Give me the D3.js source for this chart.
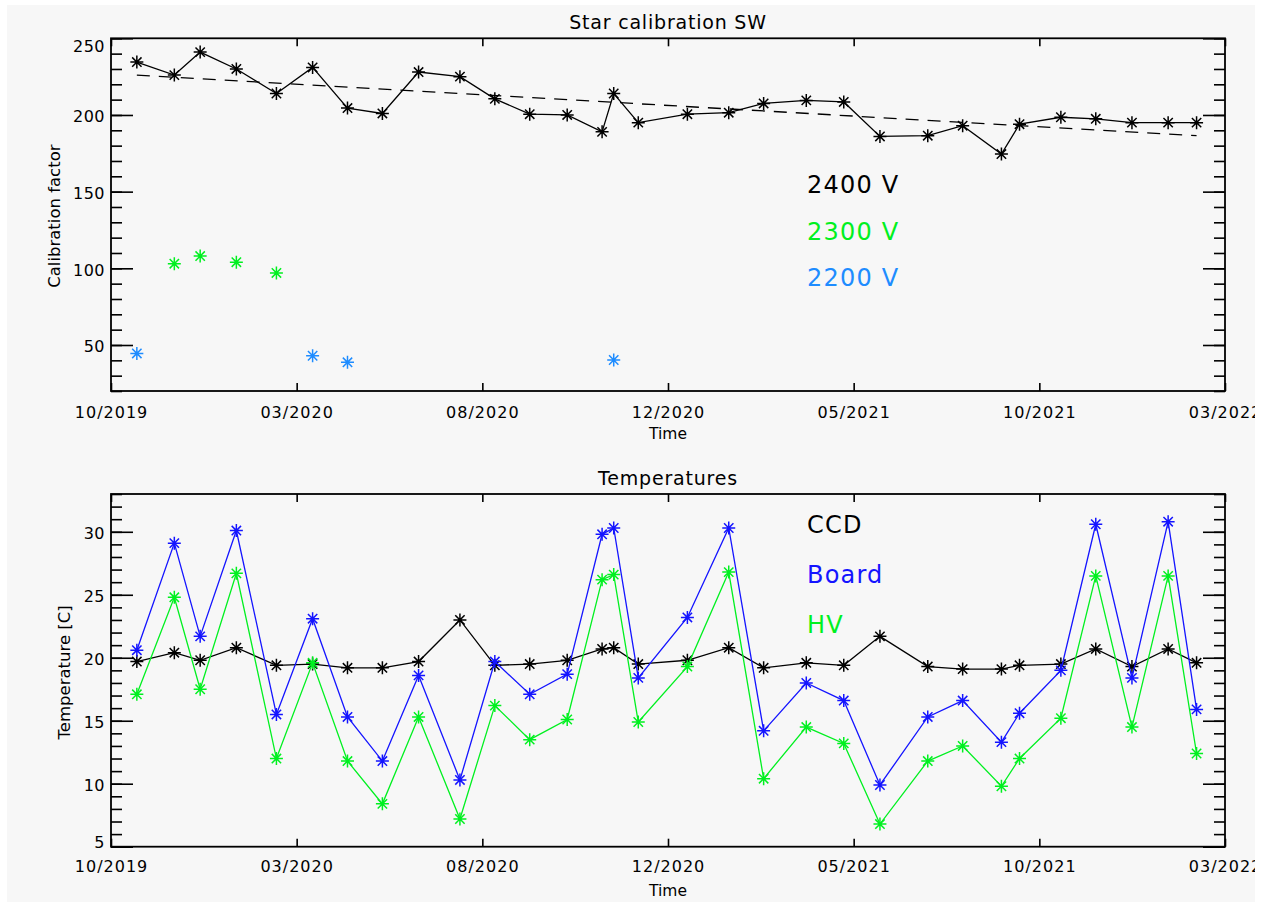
<!DOCTYPE html>
<html>
<head>
<meta charset="utf-8">
<script src="https://cdn.jsdelivr.net/npm/d3@7"></script>
<style>
  html, body { margin: 0; padding: 0; background: #ffffff; }
  svg { display: block; }
  text { font-family: "DejaVu Sans", sans-serif; }
</style>
</head>
<body>
<svg id="chart" width="1266" height="903"></svg>
<script>
// ---------------- DATA ----------------
const timeDomain = ["2019-10-25", "2022-03-05"];
const xTickLabels = ["10/2019", "03/2020", "08/2020", "12/2020", "05/2021", "10/2021", "03/2022"];

const dates = ["2019-11-14","2019-12-13","2020-01-02","2020-01-30","2020-03-01","2020-03-29",
  "2020-04-25","2020-05-22","2020-06-19","2020-07-21","2020-08-17","2020-09-13","2020-10-12",
  "2020-11-08","2020-11-17","2020-12-06","2021-01-13","2021-02-14","2021-03-13","2021-04-15",
  "2021-05-14","2021-06-11","2021-07-18","2021-08-14","2021-09-13","2021-09-27","2021-10-29",
  "2021-11-25","2021-12-23","2022-01-20","2022-02-11"];

// Star calibration SW
const calib2400 = [234.5, 226, 241, 230, 214, 231, 204.5, 201, 228, 225, 210.5, 200.5, 200,
  189, 214, 195, 200.5, 201.5, 207.5, 209.5, 208.5, 186, 186.5, 193, 174.5, 194, 198.5, 197.5, 195, 195, 195];
const dates2300 = ["2019-12-13","2020-01-02","2020-01-30","2020-03-01"];
const calib2300 = [103, 108, 104, 97];
const dates2200 = ["2019-11-14","2020-03-29","2020-04-25","2020-11-17"];
const calib2200 = [44.5, 43, 38.7, 40.2];
const fitEnds = [226, 186.5];   // dashed trend line at first and last date
const calibTicks = [50, 100, 150, 200, 250];
const calibRange = [20, 250];
const calibLegend = ["2400 V", "2300 V", "2200 V"];

// Temperatures
const ccd = [19.7, 20.4, 19.8, 20.8, 19.4, 19.5, 19.2, 19.2, 19.7, 23.0, 19.4, 19.5, 19.8,
  20.7, 20.8, 19.5, 19.8, 20.8, 19.2, 19.6, 19.4, 21.7, 19.3, 19.1, 19.1, 19.4, 19.5, 20.7, 19.3, 20.7, 19.6];
const board = [20.6, 29.1, 21.7, 30.1, 15.5, 23.1, 15.3, 11.8, 18.6, 10.3, 19.7, 17.1, 18.7,
  29.8, 30.3, 18.4, 23.2, 30.3, 14.2, 18.0, 16.6, 9.9, 15.3, 16.6, 13.3, 15.6, 19.0, 30.6, 18.4, 30.8, 15.9];
const hv = [17.1, 24.8, 17.5, 26.7, 12.0, 19.6, 11.8, 8.4, 15.3, 7.2, 16.2, 13.5, 15.1,
  26.2, 26.6, 14.9, 19.3, 26.8, 10.4, 14.5, 13.2, 6.8, 11.8, 13.0, 9.8, 12.0, 15.2, 26.5, 14.5, 26.5, 12.4];
const tempTicks = [5, 10, 15, 20, 25, 30];
const tempRange = [5, 33];
const tempLegend = ["CCD", "Board", "HV"];

// ---------------- STYLE ----------------
const C_BLACK = "#000000", C_GREEN = "#00f020", C_LBLUE = "#1e8cff", C_BLUE = "#1414ff";

const parse = d3.utcParse("%Y-%m-%d");
const svg = d3.select("#chart");

svg.append("defs").append("clipPath").attr("id", "pane")
  .append("rect").attr("x", 7).attr("y", 5).attr("width", 1248).attr("height", 897);
const root = svg.append("g").attr("clip-path", "url(#pane)");
root.append("rect").attr("x", 7).attr("y", 5).attr("width", 1248).attr("height", 897).attr("fill", "#f7f7f7");

const X0 = 111, X1 = 1225;
const x = d3.scaleUtc().domain(timeDomain.map(parse)).range([X0, X1]);
const t0 = x.domain()[0].getTime(), t1 = x.domain()[1].getTime();
const xTickVals = xTickLabels.map((_, i) => new Date(t0 + i * (t1 - t0) / (xTickLabels.length - 1)));

function starPath(r) {
  const d = r * 0.72;
  return `M0,${-r}L0,${r}M${-r},0L${r},0M${-d},${-d}L${d},${d}M${-d},${d}L${d},${-d}`;
}

function panel(opts) {
  const { top, bottom, yDomain, majors, minorStep, title, titleY, ytitle, ytitleX, xlabelY, timeY } = opts;
  const y = d3.scaleLinear().domain(yDomain).range([bottom, top]);
  const g = root.append("g");
  const minors = d3.range(yDomain[0], yDomain[1] + 0.001, minorStep);

  const yl = g.append("g").attr("transform", `translate(${X0},0)`)
    .call(d3.axisLeft(y).tickValues(majors).tickSizeInner(-22).tickSizeOuter(0).tickPadding(6));
  yl.select(".domain").remove();
  yl.selectAll("text").attr("font-size", 16).attr("letter-spacing", 0.5)
    .attr("font-family", "DejaVu Sans").attr("fill", "#000")
    .attr("dy", d => d === yDomain[1] ? "0.85em" : (d === yDomain[0] ? "0.05em" : "0.42em"));
  const ylm = g.append("g").attr("transform", `translate(${X0},0)`)
    .call(d3.axisLeft(y).tickValues(minors).tickSizeInner(-11).tickSizeOuter(0).tickFormat(""));
  ylm.select(".domain").remove();
  const yr = g.append("g").attr("transform", `translate(${X1},0)`)
    .call(d3.axisRight(y).tickValues(majors).tickSizeInner(-22).tickSizeOuter(0).tickFormat(""));
  yr.select(".domain").remove();
  const yrm = g.append("g").attr("transform", `translate(${X1},0)`)
    .call(d3.axisRight(y).tickValues(minors).tickSizeInner(-11).tickSizeOuter(0).tickFormat(""));
  yrm.select(".domain").remove();

  const xb = g.append("g").attr("transform", `translate(0,${bottom})`)
    .call(d3.axisBottom(x).tickValues(xTickVals).tickSizeInner(-8).tickSizeOuter(0)
      .tickFormat((d, i) => xTickLabels[i]));
  xb.select(".domain").remove();
  xb.selectAll("text").attr("font-size", 16).attr("letter-spacing", 1)
    .attr("font-family", "DejaVu Sans").attr("fill", "#000")
    .attr("y", xlabelY - bottom).attr("dy", 0);
  const xt = g.append("g").attr("transform", `translate(0,${top})`)
    .call(d3.axisTop(x).tickValues(xTickVals).tickSizeInner(-8).tickSizeOuter(0).tickFormat(""));
  xt.select(".domain").remove();
  g.selectAll(".tick line").attr("stroke", "#000").attr("stroke-width", 1.6);

  g.append("rect").attr("x", X0).attr("y", top).attr("width", X1 - X0).attr("height", bottom - top)
    .attr("fill", "none").attr("stroke", "#000").attr("stroke-width", 1.8);

  g.append("text").attr("x", (X0 + X1) / 2).attr("y", titleY).attr("text-anchor", "middle")
    .attr("font-size", 19).attr("letter-spacing", 0.8).text(title);
  g.append("text").attr("x", (X0 + X1) / 2).attr("y", timeY).attr("text-anchor", "middle")
    .attr("font-size", 15.5).text("Time");
  g.append("text").attr("transform", `translate(${ytitleX},${(top + bottom) / 2 + opts.ytitleShift}) rotate(-90)`)
    .attr("text-anchor", "middle").attr("font-size", 16.5).text(ytitle);

  return { g, y };
}

function drawSeries(g, y, ds, vs, color, withLine, dash) {
  const pts = ds.map((d, i) => [x(parse(d)), y(vs[i])]);
  if (withLine) {
    g.append("path").attr("d", d3.line()(pts)).attr("fill", "none")
      .attr("stroke", color).attr("stroke-width", 1.3)
      .attr("stroke-dasharray", dash || null);
  }
  if (!dash) {
    g.selectAll(null).data(pts).enter().append("path")
      .attr("transform", p => `translate(${p[0]},${p[1]})`)
      .attr("d", starPath(6.5)).attr("fill", "none").attr("stroke", color).attr("stroke-width", 1.5);
  }
}

// ---------- Top panel ----------
const P1 = panel({ top: 38.3, bottom: 391, yDomain: calibRange, majors: calibTicks, minorStep: 10,
  title: "Star calibration SW", titleY: 29.3, ytitle: "Calibration factor", ytitleX: 60, ytitleShift: 1.5,
  xlabelY: 417.5, timeY: 439 });
drawSeries(P1.g, P1.y, [dates[0], dates[dates.length - 1]], fitEnds, C_BLACK, true, "13,9");
drawSeries(P1.g, P1.y, dates, calib2400, C_BLACK, true);
drawSeries(P1.g, P1.y, dates2300, calib2300, C_GREEN, false);
drawSeries(P1.g, P1.y, dates2200, calib2200, C_LBLUE, false);
const legCol1 = [C_BLACK, C_GREEN, C_LBLUE];
const legY1 = [193.3, 240, 285.5];
calibLegend.forEach((t, i) => {
  P1.g.append("text").attr("x", 807).attr("y", legY1[i]).attr("font-size", 24)
    .attr("letter-spacing", 1.2).attr("fill", legCol1[i]).text(t);
});

// ---------- Bottom panel ----------
const P2 = panel({ top: 494, bottom: 846.7, yDomain: tempRange, majors: tempTicks, minorStep: 1,
  title: "Temperatures", titleY: 485, ytitle: "Temperature [C]", ytitleX: 70, ytitleShift: 2,
  xlabelY: 872.5, timeY: 896 });
drawSeries(P2.g, P2.y, dates, ccd, C_BLACK, true);
drawSeries(P2.g, P2.y, dates, board, C_BLUE, true);
drawSeries(P2.g, P2.y, dates, hv, C_GREEN, true);
const legCol2 = [C_BLACK, C_BLUE, C_GREEN];
const legY2 = [533.3, 582.7, 633];
tempLegend.forEach((t, i) => {
  P2.g.append("text").attr("x", 807).attr("y", legY2[i]).attr("font-size", 24)
    .attr("letter-spacing", 1.2).attr("fill", legCol2[i]).text(t);
});
</script>
</body>
</html>
